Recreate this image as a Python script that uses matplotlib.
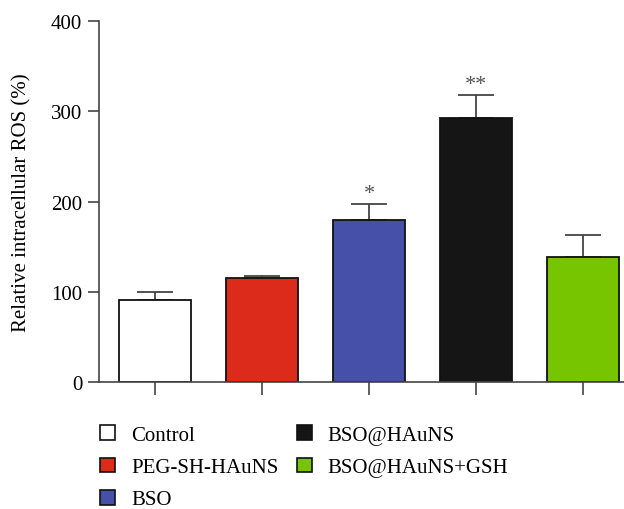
import matplotlib
matplotlib.use("Agg")
import matplotlib.pyplot as plt
from matplotlib.patches import Patch

categories = ["Control", "PEG-SH-HAuNS", "BSO", "BSO@HAuNS", "BSO@HAuNS+GSH"]
values = [91, 115, 180, 293, 138]
errors = [9, 3, 17, 25, 25]
signif = ["", "", "*", "**", ""]
colors = ["#FFFFFF", "#DC2B1A", "#4650A8", "#151515", "#76C500"]
yticks = [0, 100, 200, 300, 400]

plt.rcParams['font.family'] = ['Liberation Serif', 'DejaVu Serif']

fig = plt.figure(figsize=(6.24, 5.10), dpi=100)
ax = fig.add_axes([99/624, 1-383/510, 1-99/624, (383-22)/510])

x = list(range(len(categories)))
ax.bar(x, values, width=0.67, color=colors, edgecolor="#111111", linewidth=1.3, zorder=2)
ax.errorbar(x, values, yerr=[[0]*len(errors), errors], fmt="none", ecolor="#444444",
            elinewidth=1.3, capsize=13, capthick=1.3, zorder=1)
for xi, v, e, s in zip(x, values, errors, signif):
    if s:
        ax.text(xi, v + e + 1, s, ha="center", va="bottom", fontsize=16, color="#555555")

ax.set_xlim(-0.523, 4.38)
ax.set_ylim(0, 400)
ax.set_yticks(yticks)
ax.set_xticks(x)
ax.set_xticklabels([])
ax.tick_params(axis="y", direction="out", length=8, width=1.2, color="#444444", labelsize=15, pad=4)
ax.tick_params(axis="x", direction="out", length=9, width=1.2, color="#444444")
for sp in ["top", "right"]:
    ax.spines[sp].set_visible(False)
for sp in ["left", "bottom"]:
    ax.spines[sp].set_color("#444444")
    ax.spines[sp].set_linewidth(1.2)
ax.set_ylabel("Relative intracellular ROS (%)", fontsize=15, labelpad=14)

handles = [Patch(facecolor=c, edgecolor="#111111", linewidth=1.2) for c in colors]
fig.legend(handles, categories, loc="upper left", bbox_to_anchor=(92/624, 1-418/510),
           ncol=2, frameon=False, fontsize=15, handlelength=0.72, handleheight=0.72,
           handletextpad=0.78, columnspacing=0.85, labelspacing=0.6, borderaxespad=0)

fig.savefig("out.png", dpi=100)
